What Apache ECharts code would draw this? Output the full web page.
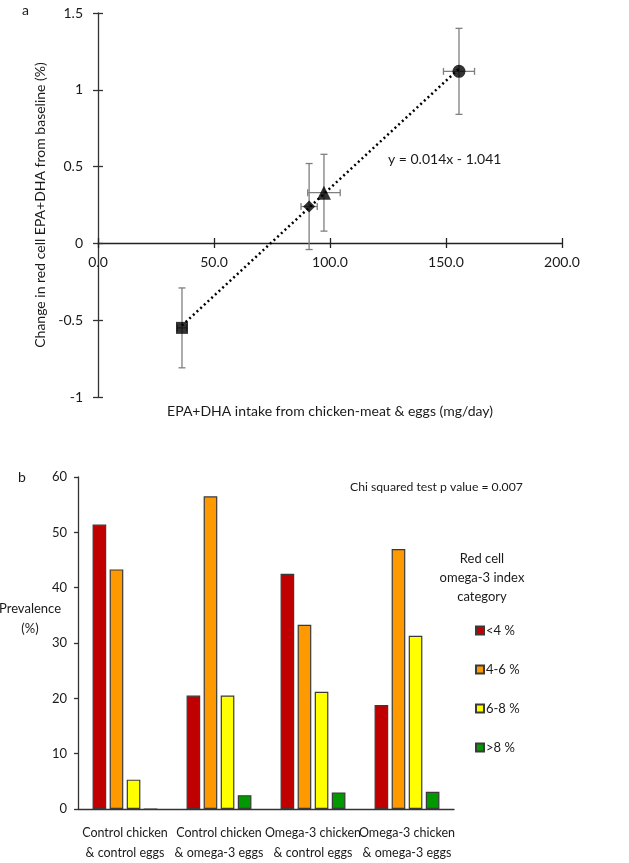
<!DOCTYPE html>
<html>
<head>
<meta charset="utf-8">
<script src="https://cdn.jsdelivr.net/npm/echarts@6/dist/echarts.min.js"></script>
<style>
html,body{margin:0;padding:0;background:#fff;}
#main{width:629px;height:863px;}
</style>
</head>
<body>
<div id="main"></div>
<script>
// ---- Panel a data ----
const intake = [36.2, 91.0, 97.4, 155.6];        // mg/day
const change = [-0.55, 0.24, 0.33, 1.12];        // % change
const intakeErr = [2.0, 3.5, 7.0, 6.7];
const changeErr = [0.26, 0.28, 0.25, 0.28];
const markerShapes = ['rect', 'diamond', 'triangle', 'circle'];
const markerSizes = [12, 12, 14, 13];
const trendSlope = 0.014;
const trendIntercept = -1.041;
const trendLabel = 'y = 0.014x - 1.041';

// ---- Panel b data ----
const groups = ['Control chicken\n& control eggs', 'Control chicken\n& omega-3 eggs', 'Omega-3 chicken\n& control eggs', 'Omega-3 chicken\n& omega-3 eggs'];
const indexCats = ['<4 %', '4-6 %', '6-8 %', '>8 %'];
const lt4 = [51.4, 20.5, 42.5, 18.8];
const p4to6 = [43.3, 56.5, 33.3, 47.0];
const p6to8 = [5.3, 20.5, 21.2, 31.3];
const gt8 = [0, 2.5, 3.0, 3.1];
const catColors = ['#C00000', '#FF9900', '#FFFF00', '#009900'];

const FONT = 'Lato';
const TXT = '#1a1a1a';
const FA = 14;    // panel a font size
const FB = 12.5;  // panel b font size

const chart = echarts.init(document.getElementById('main'), null, {renderer: 'canvas'});

const scatterSeries = intake.map((x, i) => ({
  type: 'scatter', xAxisIndex: 0, yAxisIndex: 0,
  symbol: markerShapes[i], symbolSize: markerSizes[i],
  itemStyle: {color: '#000'}, z: 5,
  data: [[x, change[i]]], silent: true
}));

const xMin = Math.min(...intake), xMax = Math.max(...intake);
const errData = intake.map((x, i) => [x, change[i], intakeErr[i], changeErr[i]]);
const barData = [lt4, p4to6, p6to8, gt8];

// panel a: grid height 384 for y range -1..1.5, so y=0 sits 154 px above the bottom
const zeroOffset = -154;

const option = {
  animation: false,
  textStyle: {fontFamily: FONT},
  grid: [
    {left: 98, top: 13, width: 464, height: 384},
    {left: 78, top: 477, width: 376, height: 336}
  ],
  xAxis: [
    {gridIndex: 0, type: 'value', min: 0, max: 200, interval: 50, position: 'bottom', offset: zeroOffset,
     axisLine: {onZero: false, lineStyle: {color: '#222', width: 1.3}},
     axisTick: {show: true, length: 5, lineStyle: {color: '#222', width: 1.3}},
     splitLine: {show: false},
     axisLabel: {margin: 12, color: TXT, fontSize: FA, fontFamily: FONT, formatter: v => v.toFixed(1)},
     name: 'EPA+DHA intake from chicken-meat & eggs (mg/day)', nameLocation: 'middle', nameGap: 161,
     nameTextStyle: {color: TXT, fontSize: FA, fontFamily: FONT}},
    {gridIndex: 0, type: 'value', min: 0, max: 200, interval: 50, position: 'bottom', offset: zeroOffset,
     axisLine: {show: false, onZero: false},
     axisTick: {show: true, inside: true, length: 5, lineStyle: {color: '#222', width: 1.3}},
     splitLine: {show: false}, axisLabel: {show: false}},
    {gridIndex: 1, type: 'category', data: groups,
     axisLine: {lineStyle: {color: '#333', width: 1.3}},
     axisTick: {show: false},
     axisLabel: {margin: 14, color: TXT, fontSize: FB, fontFamily: FONT, lineHeight: 20, interval: 0}}
  ],
  yAxis: [
    {gridIndex: 0, type: 'value', min: -1, max: 1.5, interval: 0.5,
     axisLine: {show: true, onZero: false, lineStyle: {color: '#333', width: 1.3}},
     axisTick: {show: true, length: 5, lineStyle: {color: '#333', width: 1.3}},
     splitLine: {show: false},
     axisLabel: {margin: 15, color: TXT, fontSize: FA, fontFamily: FONT},
     name: 'Change in red cell EPA+DHA from baseline (%)', nameLocation: 'middle', nameGap: 43,
     nameTextStyle: {color: TXT, fontSize: FA, fontFamily: FONT}},
    {gridIndex: 0, type: 'value', min: -1, max: 1.5, interval: 0.5, position: 'left',
     axisLine: {show: false, onZero: false},
     axisTick: {show: true, inside: true, length: 5, lineStyle: {color: '#333', width: 1.3}},
     splitLine: {show: false}, axisLabel: {show: false}},
    {gridIndex: 1, type: 'value', min: 0, max: 60, interval: 10,
     axisLine: {show: true, lineStyle: {color: '#333', width: 1.3}},
     axisTick: {show: true, length: 4, lineStyle: {color: '#333', width: 1.3}},
     splitLine: {show: false},
     axisLabel: {margin: 11, color: TXT, fontSize: FB + 0.5, fontFamily: FONT}}
  ],
  legend: {
    data: indexCats, orient: 'vertical', left: 470, top: 619,
    itemWidth: 8, itemHeight: 8, itemGap: 26, icon: 'rect',
    textStyle: {color: TXT, fontSize: FB + 0.5, fontFamily: FONT, padding: [0, 0, 0, -3]},
    selectedMode: false
  },
  graphic: [
    {type: 'text', x: 22, y: 3, style: {text: 'a', fontSize: FA, fontFamily: FONT, fill: TXT}},
    {type: 'text', x: 18, y: 470, style: {text: 'b', fontSize: FA, fontFamily: FONT, fill: TXT}},
    {type: 'text', x: 388, y: 152, style: {text: trendLabel, fontSize: FA, fontFamily: FONT, fill: TXT}},
    {type: 'text', x: 350, y: 481, style: {text: 'Chi squared test p value = 0.007', fontSize: 12.2, fontFamily: FONT, fill: TXT}},
    {type: 'text', x: 30, y: 599, style: {text: 'Prevalence\n(%)', align: 'center', fontSize: FB + 0.5, lineHeight: 20, fontFamily: FONT, fill: TXT}},
    {type: 'text', x: 482, y: 549, style: {text: 'Red cell\nomega-3 index\ncategory', align: 'center', fontSize: FB + 0.5, lineHeight: 19, fontFamily: FONT, fill: TXT}}
  ],
  series: [
    {type: 'custom', xAxisIndex: 0, yAxisIndex: 0, z: 2, silent: true,
     data: errData,
     renderItem: function (params, api) {
       const x = api.value(0), y = api.value(1), ex = api.value(2), ey = api.value(3);
       const style = {stroke: '#7f7f7f', lineWidth: 1.3};
       const top = api.coord([x, y + ey]), bot = api.coord([x, y - ey]);
       const l = api.coord([x - ex, y]), r = api.coord([x + ex, y]);
       const c = 3.5;
       const ch = [
         {type: 'line', shape: {x1: top[0], y1: top[1], x2: bot[0], y2: bot[1]}, style},
         {type: 'line', shape: {x1: top[0] - c, y1: top[1], x2: top[0] + c, y2: top[1]}, style},
         {type: 'line', shape: {x1: bot[0] - c, y1: bot[1], x2: bot[0] + c, y2: bot[1]}, style}
       ];
       if (ex > 0) {
         ch.push({type: 'line', shape: {x1: l[0], y1: l[1], x2: r[0], y2: r[1]}, style});
         ch.push({type: 'line', shape: {x1: l[0], y1: l[1] - c, x2: l[0], y2: l[1] + c}, style});
         ch.push({type: 'line', shape: {x1: r[0], y1: r[1] - c, x2: r[0], y2: r[1] + c}, style});
       }
       return {type: 'group', children: ch};
     }},
    {type: 'line', xAxisIndex: 0, yAxisIndex: 0, z: 3, silent: true, symbol: 'none',
     lineStyle: {color: '#000', width: 2.5, type: [2, 3]},
     data: [[xMin, trendSlope * xMin + trendIntercept], [xMax, trendSlope * xMax + trendIntercept]]},
    ...scatterSeries,
    ...indexCats.map((name, i) => ({
      type: 'bar', name: name, xAxisIndex: 2, yAxisIndex: 2,
      data: barData[i], barGap: '25%', barCategoryGap: '31%',
      itemStyle: {color: catColors[i], borderColor: '#3a3a3a', borderWidth: 1.2},
      silent: true
    }))
  ]
};
chart.setOption(option);
</script>
</body>
</html>
